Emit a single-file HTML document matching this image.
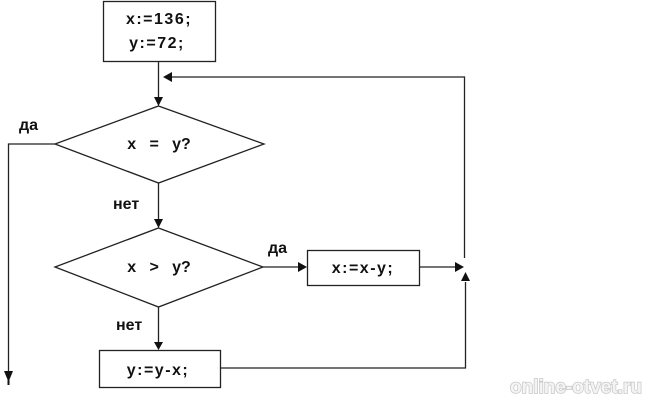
<!DOCTYPE html>
<html><head><meta charset="utf-8"><style>
html,body{margin:0;padding:0;background:#fff;width:656px;height:400px;overflow:hidden}
svg text{font-family:"Liberation Sans","DejaVu Sans",sans-serif;font-weight:bold;font-size:16px;fill:#111}
.c{letter-spacing:1.5px}
</style></head><body>
<svg width="656" height="400" viewBox="0 0 656 400" xmlns="http://www.w3.org/2000/svg">
<g stroke="#222" stroke-width="1.3" fill="none">
<rect x="103.5" y="1.5" width="112" height="60"/>
<line x1="158.5" y1="61" x2="158.5" y2="98"/>
<polyline points="166,77 464.5,77 464.5,258"/>
<polygon points="158.5,106 264,144 158.5,183 55,144"/>
<polyline points="55,144 8.5,144 8.5,372"/>
<line x1="158.5" y1="183" x2="158.5" y2="220"/>
<polygon points="158.5,228 263,267 158.5,307 55,267"/>
<line x1="263" y1="267" x2="300" y2="267"/>
<rect x="307.5" y="250.5" width="112" height="35"/>
<line x1="419" y1="267" x2="456" y2="267"/>
<line x1="158.5" y1="307" x2="158.5" y2="343"/>
<rect x="99.5" y="350.5" width="121" height="37"/>
<polyline points="221,368 465.5,368 465.5,282"/>
</g>
<g fill="#111">
<polygon points="163,77 172,72 172,82"/>
<polygon points="154,97 163,97 158.5,106"/>
<polygon points="154,219 163,219 158.5,228"/>
<polygon points="298,262 298,272 307,267"/>
<polygon points="455,262 455,272 464,267"/>
<polygon points="461,281 470,281 465.5,272"/>
<polygon points="154,342 163,342 158.5,350"/>
<polygon points="4,371 13,371 8.5,382"/>
<rect x="7.5" y="380" width="2" height="5"/>
</g>
<text class="c" x="159" y="24" text-anchor="middle">x:=136;</text>
<text class="c" x="157" y="48" text-anchor="middle">y:=72;</text>
<text x="159" y="149" text-anchor="middle" xml:space="preserve">x   =   y?</text>
<text x="159" y="272" text-anchor="middle" xml:space="preserve">x   &gt;   y?</text>
<text class="c" x="363" y="273" text-anchor="middle">x:=x-y;</text>
<text class="c" x="158" y="375" text-anchor="middle">y:=y-x;</text>
<text x="19" y="130">да</text>
<text x="113" y="209">нет</text>
<text x="268" y="253">да</text>
<text x="116" y="330">нет</text>
<text x="510" y="393" style="font-size:19px;fill:#f4f4f4;stroke:#c8c8c8;stroke-width:1.5;paint-order:stroke">online-otvet.ru</text>
</svg>
</body></html>
